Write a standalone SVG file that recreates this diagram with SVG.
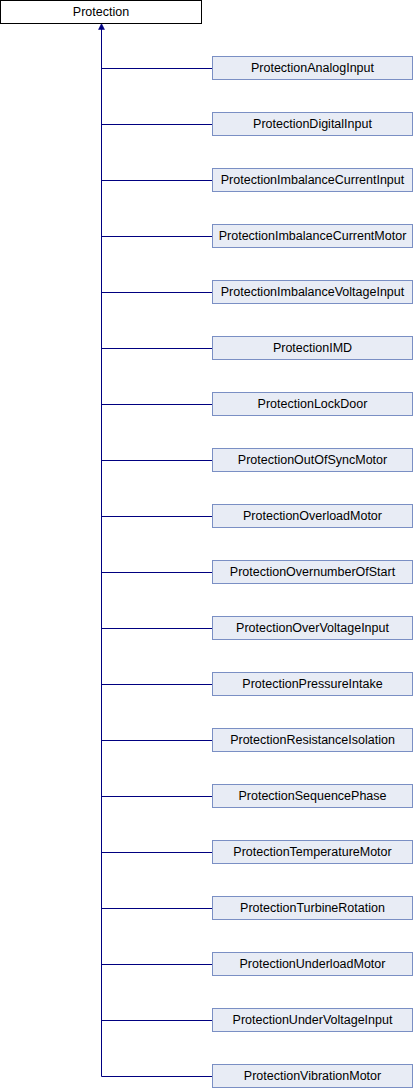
<svg xmlns="http://www.w3.org/2000/svg" width="414" height="1088" viewBox="0 0 414 1088">
<style>
.base rect{fill:#ffffff;stroke:#000000;stroke-width:1}
.node rect{fill:#e8ecf5;stroke:#7a8fc4;stroke-width:1}
text{font-family:"Liberation Sans",Arial,sans-serif;font-size:12.5px;fill:#000000;text-anchor:middle}
.conn line{stroke:#000080;stroke-width:1}
</style>
<rect width="414" height="1088" fill="#ffffff"/>
<g id="connectors" class="conn">
<line x1="101.5" y1="28" x2="101.5" y2="1076.5"/>
<line x1="101.5" y1="68.5" x2="212" y2="68.5"/>
<line x1="101.5" y1="124.5" x2="212" y2="124.5"/>
<line x1="101.5" y1="180.5" x2="212" y2="180.5"/>
<line x1="101.5" y1="236.5" x2="212" y2="236.5"/>
<line x1="101.5" y1="292.5" x2="212" y2="292.5"/>
<line x1="101.5" y1="348.5" x2="212" y2="348.5"/>
<line x1="101.5" y1="404.5" x2="212" y2="404.5"/>
<line x1="101.5" y1="460.5" x2="212" y2="460.5"/>
<line x1="101.5" y1="516.5" x2="212" y2="516.5"/>
<line x1="101.5" y1="572.5" x2="212" y2="572.5"/>
<line x1="101.5" y1="628.5" x2="212" y2="628.5"/>
<line x1="101.5" y1="684.5" x2="212" y2="684.5"/>
<line x1="101.5" y1="740.5" x2="212" y2="740.5"/>
<line x1="101.5" y1="796.5" x2="212" y2="796.5"/>
<line x1="101.5" y1="852.5" x2="212" y2="852.5"/>
<line x1="101.5" y1="908.5" x2="212" y2="908.5"/>
<line x1="101.5" y1="964.5" x2="212" y2="964.5"/>
<line x1="101.5" y1="1020.5" x2="212" y2="1020.5"/>
<line x1="101.5" y1="1076.5" x2="212" y2="1076.5"/>
<polygon points="101.5,23.5 98.5,29.5 104.5,29.5" fill="#000080" stroke="#000080" stroke-width="0.5"/>
</g>
<g id="Protection" class="base"><rect x="0.5" y="0.5" width="201" height="23"/><text x="101" y="16">Protection</text></g>
<g id="ProtectionAnalogInput" class="node"><rect x="212.5" y="56.5" width="200" height="23"/><text x="312.5" y="72">ProtectionAnalogInput</text></g>
<g id="ProtectionDigitalInput" class="node"><rect x="212.5" y="112.5" width="200" height="23"/><text x="312.5" y="128">ProtectionDigitalInput</text></g>
<g id="ProtectionImbalanceCurrentInput" class="node"><rect x="212.5" y="168.5" width="200" height="23"/><text x="312.5" y="184">ProtectionImbalanceCurrentInput</text></g>
<g id="ProtectionImbalanceCurrentMotor" class="node"><rect x="212.5" y="224.5" width="200" height="23"/><text x="312.5" y="240">ProtectionImbalanceCurrentMotor</text></g>
<g id="ProtectionImbalanceVoltageInput" class="node"><rect x="212.5" y="280.5" width="200" height="23"/><text x="312.5" y="296">ProtectionImbalanceVoltageInput</text></g>
<g id="ProtectionIMD" class="node"><rect x="212.5" y="336.5" width="200" height="23"/><text x="312.5" y="352">ProtectionIMD</text></g>
<g id="ProtectionLockDoor" class="node"><rect x="212.5" y="392.5" width="200" height="23"/><text x="312.5" y="408">ProtectionLockDoor</text></g>
<g id="ProtectionOutOfSyncMotor" class="node"><rect x="212.5" y="448.5" width="200" height="23"/><text x="312.5" y="464">ProtectionOutOfSyncMotor</text></g>
<g id="ProtectionOverloadMotor" class="node"><rect x="212.5" y="504.5" width="200" height="23"/><text x="312.5" y="520">ProtectionOverloadMotor</text></g>
<g id="ProtectionOvernumberOfStart" class="node"><rect x="212.5" y="560.5" width="200" height="23"/><text x="312.5" y="576">ProtectionOvernumberOfStart</text></g>
<g id="ProtectionOverVoltageInput" class="node"><rect x="212.5" y="616.5" width="200" height="23"/><text x="312.5" y="632">ProtectionOverVoltageInput</text></g>
<g id="ProtectionPressureIntake" class="node"><rect x="212.5" y="672.5" width="200" height="23"/><text x="312.5" y="688">ProtectionPressureIntake</text></g>
<g id="ProtectionResistanceIsolation" class="node"><rect x="212.5" y="728.5" width="200" height="23"/><text x="312.5" y="744">ProtectionResistanceIsolation</text></g>
<g id="ProtectionSequencePhase" class="node"><rect x="212.5" y="784.5" width="200" height="23"/><text x="312.5" y="800">ProtectionSequencePhase</text></g>
<g id="ProtectionTemperatureMotor" class="node"><rect x="212.5" y="840.5" width="200" height="23"/><text x="312.5" y="856">ProtectionTemperatureMotor</text></g>
<g id="ProtectionTurbineRotation" class="node"><rect x="212.5" y="896.5" width="200" height="23"/><text x="312.5" y="912">ProtectionTurbineRotation</text></g>
<g id="ProtectionUnderloadMotor" class="node"><rect x="212.5" y="952.5" width="200" height="23"/><text x="312.5" y="968">ProtectionUnderloadMotor</text></g>
<g id="ProtectionUnderVoltageInput" class="node"><rect x="212.5" y="1008.5" width="200" height="23"/><text x="312.5" y="1024">ProtectionUnderVoltageInput</text></g>
<g id="ProtectionVibrationMotor" class="node"><rect x="212.5" y="1064.5" width="200" height="23"/><text x="312.5" y="1080">ProtectionVibrationMotor</text></g>
</svg>
